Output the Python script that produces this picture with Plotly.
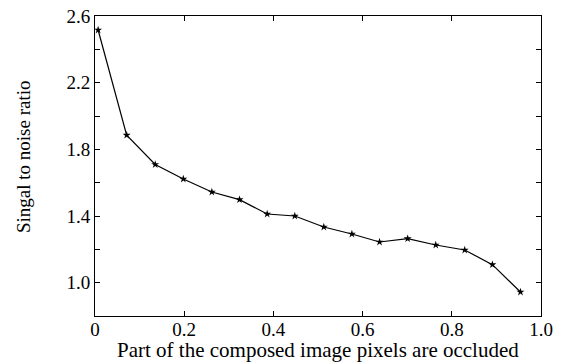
import plotly.graph_objects as go

x_vals = [0.007, 0.071, 0.135, 0.198, 0.262, 0.324, 0.386, 0.448, 0.513, 0.576, 0.638, 0.701, 0.764, 0.829, 0.891, 0.954]
snr_vals = [2.516, 1.885, 1.709, 1.622, 1.544, 1.498, 1.412, 1.400, 1.334, 1.292, 1.244, 1.264, 1.226, 1.196, 1.108, 0.944]

x_tickvals = [0, 0.2, 0.4, 0.6, 0.8, 1.0]
x_ticktext = ["0", "0.2", "0.4", "0.6", "0.8", "1.0"]
y_tickvals = [1.0, 1.2, 1.4, 1.6, 1.8, 2.0, 2.2, 2.4, 2.6]
y_ticktext = ["1.0", "", "1.4", "", "1.8", "", "2.2", "", "2.6"]

x_title = "Part of the composed image pixels are occluded"
y_title = "Singal to noise ratio"

fig = go.Figure()
fig.add_trace(go.Scatter(
    x=x_vals, y=snr_vals, mode="lines+markers",
    line=dict(color="black", width=1.2),
    marker=dict(symbol="star", size=6, color="black"),
    showlegend=False,
))

font = "Liberation Serif, Times New Roman, serif"
fig.update_layout(
    width=553, height=354,
    margin=dict(l=87, r=20, t=8, b=46),
    paper_bgcolor="white", plot_bgcolor="white",
    font=dict(family=font, color="black", size=19),
)
fig.update_xaxes(
    range=[0, 1.0], tickvals=x_tickvals, ticktext=x_ticktext,
    ticks="inside", ticklen=5, tickcolor="black",
    showline=True, linecolor="black", linewidth=1, mirror="ticks",
    showgrid=False, zeroline=False, automargin=False,
    tickfont=dict(size=19, family=font), ticklabelstandoff=-4,
    ticklabeloverflow="allow",
)
fig.update_yaxes(
    range=[0.8, 2.6], tickvals=y_tickvals, ticktext=y_ticktext,
    ticks="inside", ticklen=5, tickcolor="black",
    showline=True, linecolor="black", linewidth=1, mirror="ticks",
    showgrid=False, zeroline=False, automargin=False,
    tickfont=dict(size=19, family=font), ticklabeloverflow="allow",
)
fig.add_annotation(
    text=x_title, xref="paper", yref="paper", x=0.5, y=(316 - 350) / 300,
    xanchor="center", yanchor="middle", showarrow=False,
    font=dict(size=21, family=font, color="black"),
)
fig.add_annotation(
    text=y_title, xref="paper", yref="paper", x=(23 - 95) / 446, y=(316 - 157) / 300,
    xanchor="center", yanchor="middle", showarrow=False, textangle=-90,
    font=dict(size=19, family=font, color="black"),
)
fig.write_html("out.html")
